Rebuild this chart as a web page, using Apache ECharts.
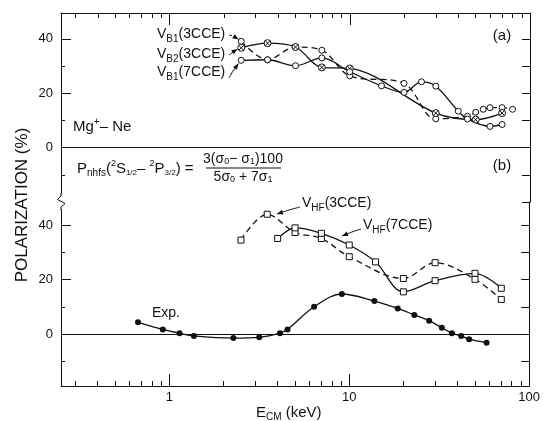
<!DOCTYPE html>
<html>
<head>
<meta charset="utf-8">
<style>
  html, body { margin: 0; padding: 0; background: #fff; }
  #chart { width: 543px; height: 421px; }
</style>
<script src="https://cdn.jsdelivr.net/npm/echarts@6/dist/echarts.min.js"></script>
</head>
<body>
<div id="chart"></div>
<script>
// panel (a): Mg+ - Ne, E_CM in keV, polarization in %
const eB1_3cce = [2.5, 3.5, 5, 7, 10, 20, 30, 45, 50, 55, 60, 70, 80]
const pB1_3cce = [39.1, 32.3, 37.0, 35.8, 26.4, 23.6, 10.6, 11.5, 13.0, 14.1, 14.7, 14.7, 14.1]
const eB2_3cce = [2.5, 3.5, 5, 7, 10, 30, 50, 70]
const pB2_3cce = [36.7, 38.4, 37.0, 29.5, 29.1, 12.7, 10.3, 12.7]
const eB1_7cce = [2.5, 3.5, 5, 7, 10, 15, 20, 25, 30, 40, 45, 60, 70]
const pB1_7cce = [32.1, 32.3, 30.1, 33.0, 27.9, 22.7, 20.3, 24.2, 22.6, 13.4, 10.5, 7.8, 8.5]

// panel (b)
const eHF_3cce = [2.5, 3.5, 5, 7, 10, 20, 30, 50, 70]
const pHF_3cce = [34.5, 44.0, 37.3, 35.1, 28.4, 20.4, 26.2, 20.1, 12.7]
const eHF_7cce = [4, 5, 7, 10, 14, 20, 30, 50, 70]
const pHF_7cce = [35.1, 39.0, 37.0, 32.7, 26.5, 15.5, 19.6, 22.3, 16.8]
const eExp = [0.67, 0.92, 1.14, 1.37, 2.27, 3.16, 4.12, 4.54, 6.38, 9.1, 13.8, 18.6, 23.0, 27.8, 32.7, 37.2, 41.9, 46.4, 58.0]
const pExp = [4.3, 1.7, 0.3, -0.7, -1.5, -1.2, 0.3, 1.7, 10.0, 14.7, 12.1, 9.4, 7.0, 4.9, 2.3, 0.3, -0.7, -1.9, -3.2]

// ticks
const xMajor = [1, 10, 100]
const xTickLabels = ['1', '10', '100']
const xMinor = [0.3, 0.4, 0.5, 0.6, 0.7, 0.8, 0.9, 2, 3, 4, 5, 6, 7, 8, 9, 20, 30, 40, 50, 60, 70, 80, 90]
const yLabelValues = [0, 20, 40]
const yMinorValues = [-10, 10, 30]
const yRightTop = [-20, -10, 0, 10, 20, 30, 40]
const yRightBottom = [-10, 0, 10, 20, 30, 40]

const INK = '#111'
const FONT = '"Liberation Sans", Arial, sans-serif'
const X_MIN = 0.25
const X_MAX = 100

const chart = echarts.init(document.getElementById('chart'))

const measure = document.createElement('canvas').getContext('2d')
function textWidth(t, size) {
  measure.font = size + 'px ' + FONT
  return measure.measureText(t).width
}

// pieces of text with sub/superscripts laid out side by side
function richText(parts, x, y, align) {
  let w = 0
  parts.forEach(p => { p.w = textWidth(p.t, p.s); w += p.w })
  let cx = align === 'center' ? x - w / 2 : x
  const els = []
  parts.forEach(p => {
    els.push({
      type: 'text', x: cx, y: y + (p.dy || 0), silent: true, z: 10,
      style: {
        text: p.t, fontSize: p.s, fontFamily: FONT, fill: INK,
        align: 'left', textAlign: 'left', verticalAlign: 'middle', textVerticalAlign: 'middle'
      }
    })
    cx += p.w
  })
  return els
}

function arrow(pts, dashed) {
  const n = pts.length
  const [x1, y1] = pts[n - 2]
  const [x2, y2] = pts[n - 1]
  const a = Math.atan2(y2 - y1, x2 - x1)
  const L = 6, W = 2.4
  const bx = x2 - L * Math.cos(a), by = y2 - L * Math.sin(a)
  return [
    {
      type: 'polyline', silent: true, z: 10,
      shape: { points: pts, smooth: 0.3 },
      style: { stroke: INK, lineWidth: 1, fill: null, lineDash: dashed ? [3, 2] : null }
    },
    {
      type: 'polygon', silent: true, z: 10,
      shape: { points: [[x2, y2], [bx + W * Math.sin(a), by - W * Math.cos(a)], [bx - W * Math.sin(a), by + W * Math.cos(a)]] },
      style: { fill: INK }
    }
  ]
}

const lg = v => Math.log10(v)

function xAxesFor(grid, pos, withLabels) {
  const tickStyle = { color: INK, width: 1 }
  return [
    {
      type: 'log', gridIndex: grid, position: pos, min: X_MIN, max: X_MAX,
      axisLine: { show: true, onZero: false, lineStyle: { color: INK, width: 1 } },
      axisTick: { show: false }, axisLabel: { show: false }, splitLine: { show: false }
    },
    {
      type: 'value', gridIndex: grid, position: pos, min: lg(X_MIN), max: lg(X_MAX),
      axisLine: { show: false, onZero: false },
      axisTick: { show: true, inside: true, length: 12, customValues: xMajor.map(lg), lineStyle: tickStyle },
      axisLabel: {
        show: withLabels, customValues: xMajor.map(lg), margin: 5,
        fontSize: 13, fontFamily: FONT, color: INK,
        formatter: v => xTickLabels[xMajor.findIndex(m => Math.abs(lg(m) - v) < 1e-6)] || ''
      },
      splitLine: { show: false }
    },
    {
      type: 'value', gridIndex: grid, position: pos, min: lg(X_MIN), max: lg(X_MAX),
      axisLine: { show: false, onZero: false },
      axisTick: { show: true, inside: true, length: 5, customValues: xMinor.map(lg), lineStyle: tickStyle },
      axisLabel: { show: false }, splitLine: { show: false }
    }
  ]
}

function yAxesFor(grid, min, max, rightTicks) {
  const tickStyle = { color: INK, width: 1 }
  const base = { type: 'value', gridIndex: grid, min: min, max: max, splitLine: { show: false } }
  return [
    Object.assign({}, base, {
      position: 'left',
      axisLine: { show: true, onZero: false, lineStyle: { color: INK, width: 1 } },
      axisTick: { show: true, inside: true, length: 10, customValues: yLabelValues, lineStyle: tickStyle },
      axisLabel: { show: true, customValues: yLabelValues, margin: 8, fontSize: 13, fontFamily: FONT, color: INK }
    }),
    Object.assign({}, base, {
      position: 'left',
      axisLine: { show: false, onZero: false },
      axisTick: { show: true, inside: true, length: 4, customValues: yMinorValues, lineStyle: tickStyle },
      axisLabel: { show: false }
    }),
    Object.assign({}, base, {
      position: 'right',
      axisLine: { show: true, onZero: false, lineStyle: { color: INK, width: 1 } },
      axisTick: { show: true, inside: true, length: 8, customValues: rightTicks, lineStyle: tickStyle },
      axisLabel: { show: false }
    })
  ]
}

const zeroLine = {
  silent: true, symbol: ['none', 'none'], label: { show: false },
  lineStyle: { color: INK, type: 'solid', width: 1 },
  emphasis: { disabled: true },
  data: [{ yAxis: 0 }]
}

const CROSSED = 'path://M10,1A9,9 0 1,1 9.99,1Z M3.6,3.6L16.4,16.4M3.6,16.4L16.4,3.6'

function line(name, xs, ys, opts) {
  return Object.assign({
    name: name, type: 'line', smooth: 0.35,
    data: xs.map((x, i) => [x, ys[i]]),
    symbolSize: 6,
    lineStyle: { color: INK, width: 1.3 },
    itemStyle: { color: '#fff', borderColor: INK, borderWidth: 1 },
    z: 3
  }, opts)
}

const graphics = [].concat(
  // axis break on the left edge
  [{ type: 'rect', silent: true, z: 9, shape: { x: 55, y: 194, width: 12, height: 15 }, style: { fill: '#fff' } },
   { type: 'polyline', silent: true, z: 10, shape: { points: [[61, 193], [61, 196], [57.5, 199.5], [65, 203.5], [61, 207], [61, 210]] },
     style: { stroke: INK, lineWidth: 1, fill: null } }],
  [{
    type: 'text', x: 22, y: 205, rotation: Math.PI / 2, silent: true, z: 10,
    style: { text: 'POLARIZATION (%)', fontSize: 17, fontFamily: FONT, fill: INK,
      align: 'center', textAlign: 'center', verticalAlign: 'middle', textVerticalAlign: 'middle' }
  }],
  richText([{ t: 'E', s: 15 }, { t: 'CM', s: 10, dy: 4 }, { t: ' (keV)', s: 15 }], 256, 413),
  richText([{ t: '(a)', s: 15 }], 502, 36, 'center'),
  richText([{ t: '(b)', s: 15 }], 502, 166, 'center'),
  richText([{ t: 'Mg', s: 15 }, { t: '+', s: 10, dy: -5 }, { t: '– Ne', s: 15 }], 73, 127),
  richText([
    { t: 'P', s: 15 }, { t: 'nhfs', s: 10, dy: 4 }, { t: '(', s: 15 },
    { t: '2', s: 9, dy: -5 }, { t: 'S', s: 15 }, { t: '1/2', s: 8, dy: 4 }, { t: '– ', s: 15 },
    { t: '2', s: 9, dy: -5 }, { t: 'P', s: 15 }, { t: '3/2', s: 8, dy: 4 }, { t: ')', s: 15 }, { t: ' = ', s: 15 }
  ], 77, 169),
  richText([
    { t: '3(σ', s: 14 }, { t: '0', s: 9, dy: 3 }, { t: '− σ', s: 14 }, { t: '1', s: 9, dy: 3 }, { t: ')100', s: 14 }
  ], 243, 159, 'center'),
  [{ type: 'line', silent: true, z: 10, shape: { x1: 206, y1: 168, x2: 281, y2: 168 }, style: { stroke: INK, lineWidth: 1 } }],
  richText([
    { t: '5σ', s: 14 }, { t: '0', s: 9, dy: 3 }, { t: ' + 7σ', s: 14 }, { t: '1', s: 9, dy: 3 }
  ], 243, 177, 'center'),
  richText([{ t: 'V', s: 14 }, { t: 'B1', s: 10, dy: 5 }, { t: '(3CCE)', s: 14 }], 157, 34),
  richText([{ t: 'V', s: 14 }, { t: 'B2', s: 10, dy: 5 }, { t: '(3CCE)', s: 14 }], 157, 54),
  richText([{ t: 'V', s: 14 }, { t: 'B1', s: 10, dy: 5 }, { t: '(7CCE)', s: 14 }], 157, 72),
  arrow([[229, 35], [234, 36.5], [238.5, 39.5]], true),
  arrow([[229, 55], [233, 52], [237.5, 49]], false),
  arrow([[229, 78], [233, 71], [238.5, 63.5]], false),
  richText([{ t: 'V', s: 14 }, { t: 'HF', s: 10, dy: 5 }, { t: '(3CCE)', s: 14 }], 302, 203),
  richText([{ t: 'V', s: 14 }, { t: 'HF', s: 10, dy: 5 }, { t: '(7CCE)', s: 14 }], 363, 225),
  arrow([[300, 207], [289, 210], [277, 214]], false),
  arrow([[361, 229], [352, 232], [342, 236]], false),
  richText([{ t: 'Exp.', s: 14 }], 152, 313)
)

chart.setOption({
  animation: false,
  backgroundColor: '#fff',
  grid: [
    { left: 61, top: 13, width: 469, height: 189 },
    { left: 61, top: 202, width: 469, height: 184 }
  ],
  xAxis: xAxesFor(0, 'top', false).concat(xAxesFor(1, 'bottom', true)),
  yAxis: yAxesFor(0, -20, 49.5, yRightTop).concat(yAxesFor(1, -19.1, 48.5, yRightBottom)),
  graphic: graphics,
  series: [
    line('VB1(3CCE)', eB1_3cce, pB1_3cce, {
      xAxisIndex: 0, yAxisIndex: 0, symbol: 'circle',
      lineStyle: { color: INK, width: 1.3, type: [6, 4] },
      markLine: zeroLine
    }),
    line('VB2(3CCE)', eB2_3cce, pB2_3cce, {
      xAxisIndex: 0, yAxisIndex: 0, symbol: CROSSED, symbolSize: 7
    }),
    line('VB1(7CCE)', eB1_7cce, pB1_7cce, {
      xAxisIndex: 0, yAxisIndex: 0, symbol: 'circle'
    }),
    line('VHF(3CCE)', eHF_3cce, pHF_3cce, {
      xAxisIndex: 3, yAxisIndex: 3, symbol: 'rect',
      lineStyle: { color: INK, width: 1.3, type: [6, 4] }
    }),
    line('VHF(7CCE)', eHF_7cce, pHF_7cce, {
      xAxisIndex: 3, yAxisIndex: 3, symbol: 'rect'
    }),
    line('Exp.', eExp, pExp, {
      xAxisIndex: 3, yAxisIndex: 3, symbol: 'circle', symbolSize: 6,
      itemStyle: { color: INK, borderColor: INK, borderWidth: 0 },
      markLine: zeroLine
    })
  ]
})
</script>
</body>
</html>
